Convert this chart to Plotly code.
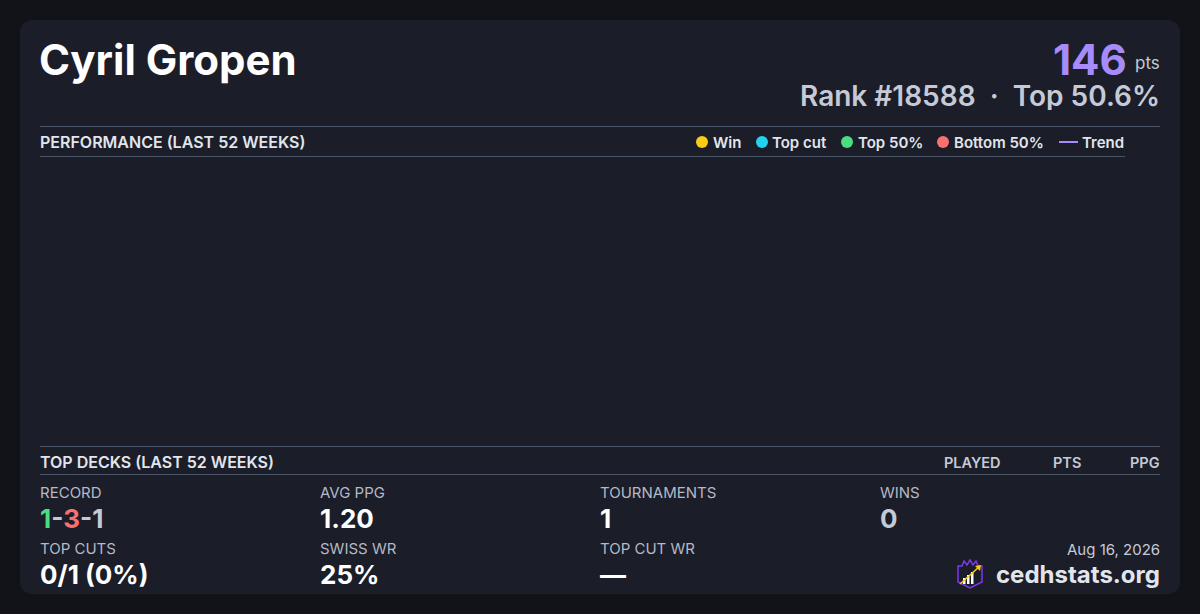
import plotly.graph_objects as go

# ---------------- data ----------------
player_name = "Cyril Gropen"
points = 146
rank = 18588
top_pct = 50.6

# performance chart (last 52 weeks) - no points plotted in the reference
weeks = []
week_pts = []
trend_pts = []

legend_labels = ["Win", "Top cut", "Top 50%", "Bottom 50%", "Trend"]
legend_colors = ["#facc15", "#22d3ee", "#4ade80", "#f87171", "#a78bfa"]
legend_kinds = ["dot", "dot", "dot", "dot", "line"]

deck_headers = ["PLAYED", "PTS", "PPG"]

record = [1, 3, 1]  # wins - losses - draws
stat_labels_row1 = ["RECORD", "AVG PPG", "TOURNAMENTS", "WINS"]
stat_values_row1 = [None, "1.20", "1", "0"]
stat_labels_row2 = ["TOP CUTS", "SWISS WR", "TOP CUT WR"]
stat_values_row2 = ["0/1 (0%)", "25%", "—"]
date_text = "Aug 16, 2026"
site_text = "cedhstats.org"

# ---------------- styling helpers ----------------
W, H = 1200, 614
FONT = "Inter"
BG = "#121318"
CARD = "#1b1d28"
LINE = "#4a5568"
WHITE = "#ffffff"
LIGHT = "#e2e5ec"
GREY = "#c6cad6"
MUTED = "#b4b9c6"


def px(x):
    return x / W


def py(y):
    return 1 - y / H


fig = go.Figure()

# empty performance traces (chart region)
for lab, col in zip(legend_labels[:4], legend_colors[:4]):
    fig.add_trace(go.Scatter(x=weeks, y=week_pts, mode="markers", name=lab,
                             marker=dict(color=col, size=10), showlegend=False))
fig.add_trace(go.Scatter(x=weeks, y=trend_pts, mode="lines", name="Trend",
                         line=dict(color=legend_colors[4], width=2), showlegend=False))

shapes = []
ann = []

# card with rounded corners
x0, y0, x1, y1, r = 20, 20, 1180, 594, 14
path = (f"M {px(x0+r)},{py(y0)} L {px(x1-r)},{py(y0)} "
        f"Q {px(x1)},{py(y0)} {px(x1)},{py(y0+r)} L {px(x1)},{py(y1-r)} "
        f"Q {px(x1)},{py(y1)} {px(x1-r)},{py(y1)} L {px(x0+r)},{py(y1)} "
        f"Q {px(x0)},{py(y1)} {px(x0)},{py(y1-r)} L {px(x0)},{py(y0+r)} "
        f"Q {px(x0)},{py(y0)} {px(x0+r)},{py(y0)} Z")
shapes.append(dict(type="path", xref="paper", yref="paper", path=path,
                   fillcolor=CARD, line=dict(width=0), layer="below"))


def hline(xa, xb, y):
    shapes.append(dict(type="line", xref="paper", yref="paper",
                       x0=px(xa), x1=px(xb), y0=py(y), y1=py(y),
                       line=dict(color=LINE, width=1)))


hline(40, 1160, 126.5)
hline(40, 1125, 156.5)
hline(40, 1160, 446.5)
hline(40, 1160, 474.5)


def text(x, y, s, size, color, weight=400, anchor="left", height=None):
    a = dict(xref="paper", yref="paper", x=px(x), y=py(y), text=s,
             showarrow=False, xanchor=anchor, yanchor="middle", borderpad=0,
             font=dict(family=FONT, size=size, color=color, weight=weight))
    if height:
        a["height"] = height
    ann.append(a)


# header
text(38, 59, player_name, 42, WHITE, 700)
text(1128, 59, str(points), 42, "#a78bfa", 700, "right", height=36)
text(1161, 63, "pts", 17, GREY, 400, "right")
text(1161, 96, f"Rank #{rank}\u00a0\u00a0·\u00a0\u00a0Top {top_pct}%", 28, GREY, 600, "right", height=28)

# performance section header + legend
text(39, 142, "PERFORMANCE (LAST 52 WEEKS)", 16, LIGHT, 600)
legend_x = [702, 762, 847, 943, 1059]
legend_tx = [712, 771, 857, 953, 1081]
for lx, tx, lab, col, kind in zip(legend_x, legend_tx, legend_labels, legend_colors, legend_kinds):
    if kind == "dot":
        shapes.append(dict(type="circle", xref="paper", yref="paper",
                           x0=px(lx - 6), x1=px(lx + 6), y0=py(136), y1=py(148),
                           fillcolor=col, line=dict(width=0)))
    else:
        shapes.append(dict(type="line", xref="paper", yref="paper",
                           x0=px(lx), x1=px(lx + 19), y0=py(142), y1=py(142),
                           line=dict(color=col, width=2)))
    text(tx, 142, lab, 15, LIGHT, 600)

# top decks header
text(39, 462, "TOP DECKS (LAST 52 WEEKS)", 16, LIGHT, 600)
text(972, 462, deck_headers[0], 14.5, GREY, 600, "center")
text(1067, 462, deck_headers[1], 14.5, GREY, 600, "center")
text(1161, 462, deck_headers[2], 14.5, GREY, 600, "right")

# stats
cols_x = [39, 319, 599, 879]
for cx, lab in zip(cols_x, stat_labels_row1):
    text(cx, 492, lab, 15, MUTED, 400)
rec_html = (f"<span style='color:#4ade80'>{record[0]}</span>"
            f"<span style='color:{GREY}'>-</span>"
            f"<span style='color:#f87171'>{record[1]}</span>"
            f"<span style='color:{GREY}'>-{record[2]}</span>")
text(cols_x[0], 518, rec_html, 26, WHITE, 700)
text(cols_x[1], 518, stat_values_row1[1], 26, WHITE, 700)
text(cols_x[2], 518, stat_values_row1[2], 26, WHITE, 700)
text(cols_x[3], 518, stat_values_row1[3], 26, GREY, 700)

for cx, lab, val in zip(cols_x, stat_labels_row2, stat_values_row2):
    text(cx, 548, lab, 15, MUTED, 400)
    text(cx, 574, val, 26, WHITE, 700)

text(1161, 549, date_text, 15, GREY, 400, "right")
text(1161, 574, site_text, 24, LIGHT, 700, "right")

# logo
logo = [(958, 566), (962, 566), (964, 561), (967, 565), (970, 560), (973, 565),
        (976, 561), (978, 566), (982, 566), (982, 582), (970, 588), (958, 582)]
lp = "M " + " L ".join(f"{px(a)},{py(b)}" for a, b in logo) + " Z"
shapes.append(dict(type="path", xref="paper", yref="paper", path=lp,
                   fillcolor="rgba(0,0,0,0)", line=dict(color="#7c3aed", width=1.5)))
for bx, top in [(963, 578), (967, 575), (971, 572)]:
    shapes.append(dict(type="rect", xref="paper", yref="paper",
                       x0=px(bx), x1=px(bx + 2.5), y0=py(584), y1=py(top),
                       fillcolor=WHITE, line=dict(width=0)))
shapes.append(dict(type="line", xref="paper", yref="paper",
                   x0=px(960), y0=py(584), x1=px(979), y1=py(567),
                   line=dict(color="#facc15", width=1.5)))
shapes.append(dict(type="path", xref="paper", yref="paper",
                   path=f"M {px(981)},{py(565)} L {px(975)},{py(566)} L {px(980)},{py(571)} Z",
                   fillcolor="#facc15", line=dict(width=0)))

fig.update_layout(
    width=W, height=H,
    margin=dict(l=0, r=0, t=0, b=0),
    paper_bgcolor=BG, plot_bgcolor="rgba(0,0,0,0)",
    showlegend=False,
    shapes=shapes, annotations=ann,
    xaxis=dict(domain=[px(40), px(1160)], visible=False, showgrid=False, zeroline=False),
    yaxis=dict(domain=[py(440), py(162)], visible=False, showgrid=False, zeroline=False),
)

fig.write_html("out.html", config={"displayModeBar": False},
               post_script="document.body.style.margin='0';document.body.style.background='#121318';")
